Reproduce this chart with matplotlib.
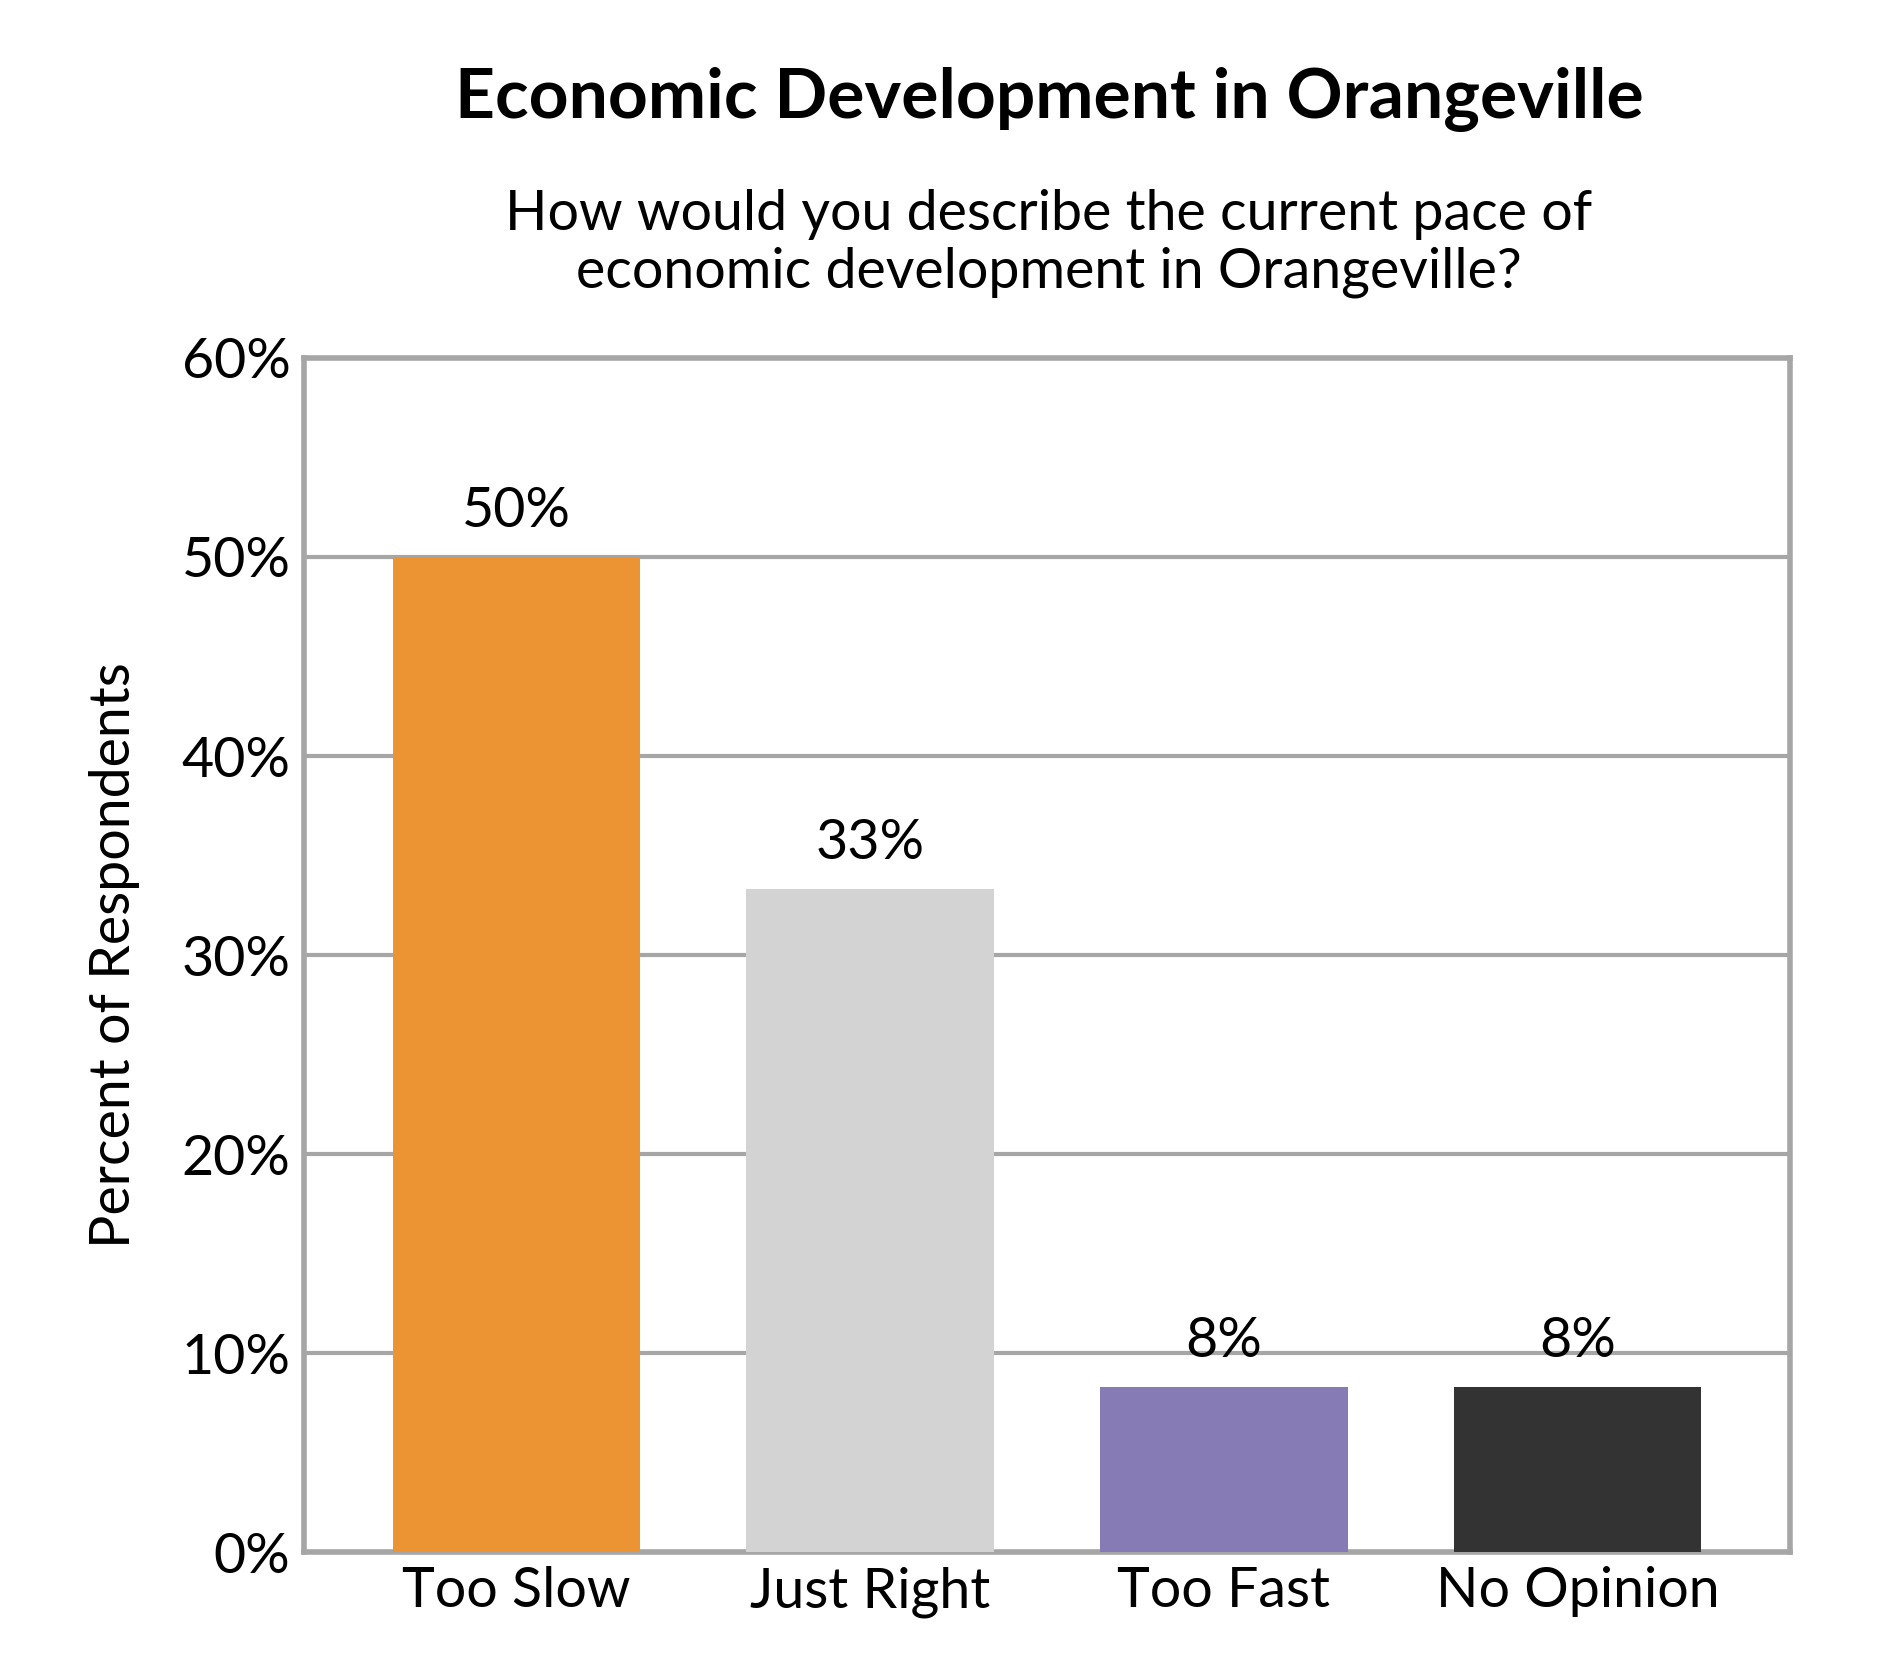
import matplotlib
matplotlib.use("Agg")
import matplotlib.pyplot as plt

categories = ["Too Slow", "Just Right", "Too Fast", "No Opinion"]
values = [50, 33.3, 8.3, 8.3]
labels = ["50%", "33%", "8%", "8%"]
colors = ["#EC9433", "#D3D3D3", "#877BB5", "#333333"]
yticks = [0, 10, 20, 30, 40, 50, 60]

plt.rcParams['font.family'] = ['Lato', 'DejaVu Sans']
fig = plt.figure(figsize=(18.9, 16.8), dpi=100)
ax = fig.add_axes([0.161, 0.076, 0.786, 0.711])
x = range(len(categories))
ax.bar(x, values, width=0.7, color=colors, zorder=3)
for i, (v, l) in enumerate(zip(values, labels)):
    ax.text(i, v + 1.0, l, ha='center', va='bottom', fontsize=40, zorder=4)
ax.set_xlim(-0.6, 3.6)
ax.set_ylim(0, 60)
ax.set_yticks(yticks)
ax.set_yticklabels([f"{t}%" for t in yticks], fontsize=40)
ax.set_xticks(list(x))
ax.set_xticklabels(categories, fontsize=40)
ax.tick_params(length=0, pad=10)
ax.yaxis.grid(True, color="#A6A6A6", linewidth=3, zorder=0)
for s in ax.spines.values():
    s.set_color("#A6A6A6"); s.set_linewidth(4)
ax.set_ylabel("Percent of Respondents", fontsize=40, labelpad=30)
fig.text(0.555, 0.941, "Economic Development in Orangeville", ha='center', va='center',
         fontsize=50, fontweight='bold')
fig.text(0.555, 0.855, "How would you describe the current pace of\neconomic development in Orangeville?",
         ha='center', va='center', fontsize=40, linespacing=1.15)
fig.savefig("out.png", dpi=100, facecolor="white")
